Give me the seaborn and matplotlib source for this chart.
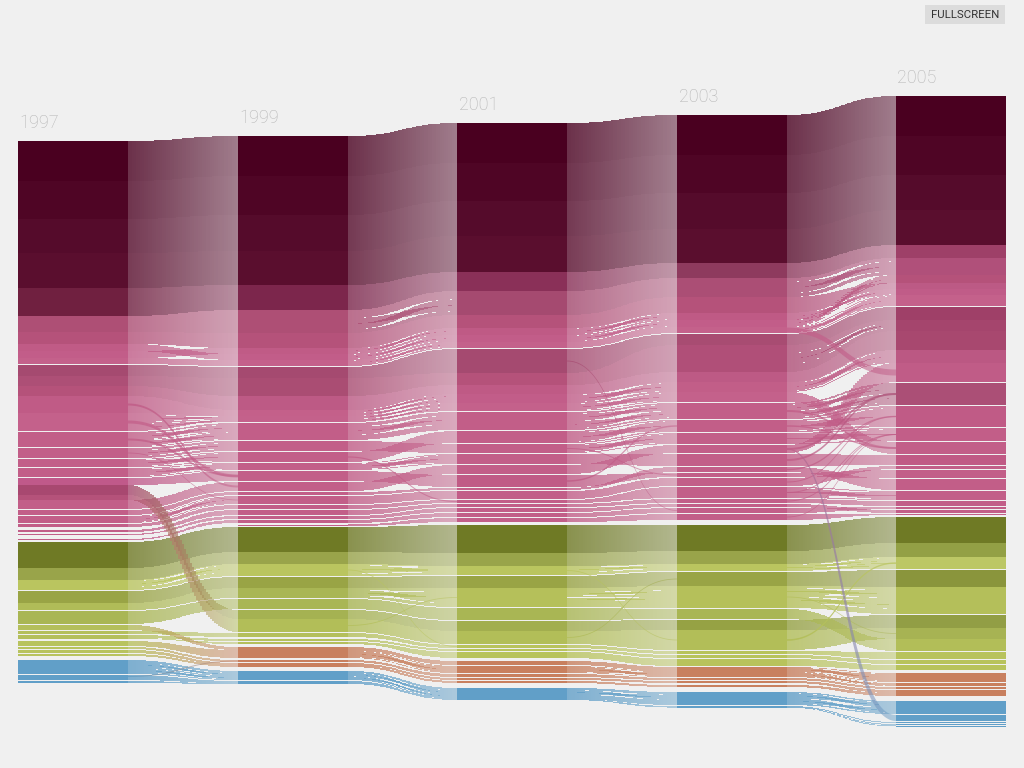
import numpy as np
import matplotlib
matplotlib.use("Agg")
import matplotlib.pyplot as plt
from matplotlib.collections import PolyCollection
from matplotlib.colors import to_rgb
from matplotlib.patches import Rectangle
import seaborn as sns

years = [1997, 1999, 2001, 2003, 2005]
tops = {1997: 141, 1999: 136, 2001: 123, 2003: 115, 2005: 96}

dark_ids = ["d1","d2","d3","d4","d5"]

order_1997 = dark_ids + ["b1","b2","b3","b4","b5","c1","c2","c3","c4","c5",
    "e1","e2","e3","e4","e5","x1","x2","e6","e7","e8","e9","e10","e11","e12",
    "o1","o2","o3","o4","o5","o6","g1","o8","o9","o10","g2","g3","g4","g5","k1","k2","k3","k4"]
heights_1997 = [40,38,34,35,28, 16,12,7,7,6, 11,10,10,17,18, 15,10,8,9,7, 10,5, 9,5,7,3,2,1,1,
    26,12,10,12,7,13, 5,3,3,0.5, 5,2,3,2, 14,3,2,2]
gaps_1997 = [0,0,0,0,0, 0,0,0,0,1, 0,0,0,0,1, 1,1,1,1,0, 0,0, 1,1,1,3,2,4,2,
    0,0,1,0,1,1, 1,1,0,2.5, 1,1,1,4, 1,0,1,0]
colors_1997 = ["#4a0020","#4f0525","#550b2b","#5a0e2e","#702040",
    "#ae4f75","#b5527a","#c05b86","#c25d89","#c4618b",
    "#a54a70","#ad4f76","#b5527a","#c05b86","#c4618b",
    "#c25e88","#c25e88","#c25e88","#c25e88","#c0598a","#a84870","#b5527a",
    "#c25e88","#c25e88","#c25e88","#c25e88","#c25e88","#c25e88","#c25e88",
    "#6f7a25","#99a44a","#bac55f","#99a445","#b0bc58","#a9b654",
    "#b4bf5c","#b4bf5c","#b4bf5c","#b4bf5c","#b8c35f","#b8c35f","#b8c35f","#b8c35f",
    "#619fc8","#619fc8","#619fc8","#619fc8"]

order_1999 = dark_ids + ["b1","b2","b4","b3","b5","c1","c2","c3","c4","c5",
    "e1","e2","e3","e4","e5","e6","e7","e8","e9","e10","e11","e12","e13",
    "o1","o2","o3","o4","o5","o6","x1","x2","o8","o9","o10",
    "g1","g2","g3","g4","g5","k1","k2","k3","k4"]
heights_1999 = [40,39,36,34,25, 23,15,6,6,6, 11,18,14,6,6, 17,10,10,7,10,9,3,8,4,5,3,3,1.5,
    25,12,12,11,10,10, 9,13, 4,2,2, 3,8,2,2,2, 9,2,0.5,0.5]
gaps_1999 = [0,0,0,0,0, 0,0,0,0,1, 0,0,0,0,1, 1,1,1,1,1,1,1,1,1,1,1,1.5,1,
    0,0,1,0,1,1, 0,1, 2,1,3, 0,2,1,0,4, 1,0,0,0]
colors_1999 = ["#4a0020","#4f0525","#550b2b","#5a0e2e","#7c264c",
    "#ae4f75","#b5527a","#c05b86","#c25d89","#c4618b",
    "#a54a70","#aa4d73","#bd5a85","#c4608a","#c4618b",
    "#c25e88","#c25e88","#c25e88","#c25e88","#c25e88","#c25e88","#c25e88","#c25e88",
    "#c25e88","#c25e88","#c25e88","#c25e88","#c25e88",
    "#6f7a25","#99a44a","#bac55f","#99a445","#a9b654","#a9b654","#a5b252","#b2be58",
    "#b4bf5c","#b4bf5c","#b4bf5c",
    "#c8805f","#c8805f","#c8805f","#c8805f","#c8805f","#619fc8","#619fc8","#619fc8","#619fc8"]

order_2001 = dark_ids + ["b1","b2","b4","b3","b5","c1","c2","c3","c4","c5",
    "e1","e3","e2","e4","e6","e5","e7","e8","e9","e10","e11","e12","e13",
    "o1","o2","o3","o4","o5","o6","x1","x2","o8","o9","o10",
    "g1","g2","g3","g4","g5","k1","k2","k3","k4"]
heights_2001 = [40,38,35,36,19, 24,13,7,7,6, 24,12,9,9,8, 18,12,9,10,9,12,2,8,3,3,4,4,4,
    28,13,9,12,19,12, 10,13, 3,2,6, 4,7,3,2,2, 11,0.4,0.3,0.3]
gaps_2001 = [0,0,0,0,0, 0,0,0,0,1, 0,0,0,0,1, 1,1,1,1,1,1,1,1,1,1,1,1,3,
    0,0,1,0,1,1, 0,1, 1,1,3, 1,1,1,1,5, 0,0,0,0]
colors_2001 = ["#4a0020","#4f0525","#550b2b","#5a0e2e","#8a3058",
    "#a54a70","#b5527a","#bf5a85","#c25d89","#c4618b",
    "#a54a70","#b5527a","#bf5a85","#c25d89","#c4618b",
    "#c25e88","#c25e88","#c25e88","#c25e88","#c25e88","#c05b86","#c25e88","#c25e88",
    "#c25e88","#c25e88","#c25e88","#c25e88","#c25e88",
    "#6f7a25","#99a44a","#bac55f","#99a445","#b5c05a","#a9b654","#a2ae4e","#b2be58",
    "#b8c35c","#b8c35c","#b8c35c",
    "#c8805f","#c8805f","#c8805f","#c8805f","#c8805f","#619fc8","#619fc8","#619fc8","#619fc8"]

order_2003 = dark_ids + ["b1","b2","b4","b3","b5","c1","c2","c3","c4","c5",
    "e1","e3","e2","e6","e4","e7","e5","e8","e9","e10","e11","e12","e13",
    "o1","o2","o3","o4","o5","o6","x1","x2","o8","o9","o10",
    "g1","g2","g3","g4","g5","k1","k2","k3","k4"]
heights_2003 = [40,38,36,34,15, 19,16,7,7,6, 11,27,10,10,10, 16,12,11,8,12,5,4,8,11,4,3,5,6,
    26,13,7,14,22,10, 10,20, 3,3,7, 5,5,2,2,2, 13,1,0.3,0.3]
gaps_2003 = [0,0,0,0,0, 0,0,0,0,1, 0,0,0,0,1, 1,1,1,1,1,1,1,1,1,1,1,1,5,
    0,0,1,0,1,1, 0,1, 1,1,1, 0,1,1,2,5, 1,0,0,0]
colors_2003 = ["#4a0020","#4f0525","#550b2b","#5a0e2e","#8e3a5e",
    "#ab4e75","#b5527a","#bf5a85","#c25d89","#c4618b",
    "#a84c72","#b04f78","#bd5a85","#c25e88","#c4618b",
    "#c25e88","#c25e88","#c25e88","#c25e88","#c25e88","#c25e88","#c25e88","#c25e88",
    "#c25e88","#c25e88","#c25e88","#c25e88","#c25e88",
    "#6f7a25","#99a44a","#bac55f","#99a445","#b5c05a","#a9b654","#96a244","#b2be58",
    "#b8c35c","#b8c35c","#b8c35c",
    "#c8805f","#c8805f","#c8805f","#c8805f","#c8805f","#619fc8","#619fc8","#619fc8","#619fc8"]

order_2005 = dark_ids + ["b1","b3","b2","b4","b5","c1","c2","c3","c4","e6",
    "e1","e3","e2","c5","e4","e8","e5","e7","e9","e10","e12","e11","e13",
    "o1","o2","o3","o4","o5","x1","x2","o6","o8","o9","o10",
    "g1","g2","g3","g4","g5","k1","k5","k2","k3","k4"]
heights_2005 = [40,39,35,35,13, 17,8,6,6,11, 13,11,19,13,19, 22,21,13,12,10,3,8,11,9,5,2,3,1,
    26,14,12,17,27,13,11,12, 7,4,5, 9,3,2,3,3, 13,6,1,1,1]
gaps_2005 = [0,0,0,0,0, 0,0,0,0,1, 0,0,0,0,1, 1,1,1,1,1,1,1,1,1,1,1,1,2,
    0,0,1,0,1,0,0,1, 1,1,3, 1,1,1,0,5, 1,1,1,0.5,0]
colors_2005 = ["#4a0020","#4f0525","#550b2b","#5a0e2e","#9e4068",
    "#b0507a","#b5527a","#bc5a85","#c05c88","#c4618b",
    "#9f4068","#a5456d","#a8486f","#bb5883","#c05c87",
    "#ab4f76","#c05b86","#c25e88","#c25e88","#c05a85","#c25e88","#c25e88","#c25e88",
    "#c25e88","#c25e88","#c25e88","#c25e88","#c25e88",
    "#6f7a25","#93a045","#bcc765","#8a953c","#b4bf5a","#929e45","#a7b353","#b2be58",
    "#b8c35c","#b8c35c","#b8c35c",
    "#c8805f","#c8805f","#c8805f","#c8805f","#c8805f","#619fc8","#619fc8","#619fc8","#619fc8","#619fc8"]

orders = dict(zip(years, [order_1997, order_1999, order_2001, order_2003, order_2005]))
heights = dict(zip(years, [heights_1997, heights_1999, heights_2001, heights_2003, heights_2005]))
gaps = dict(zip(years, [gaps_1997, gaps_1999, gaps_2001, gaps_2003, gaps_2005]))
colors = dict(zip(years, [colors_1997, colors_1999, colors_2001, colors_2003, colors_2005]))

weaves = {
 1997: {"c5":[(.1,.2),(.6,.2)], "e1":[(.1,.2),(.55,.2)], "e2":[(.2,.3)], "e3":[(.1,.4)],
        "e4":[(.1,.4)], "e8":[(.1,.4)], "k1":[(.2,.15),(.6,.15)], "o3":[(.1,.3)]},
 1999: {"b1":[(.35,.25)], "b3":[(.1,.35)], "b4":[(.1,.35)], "b5":[(.1,.35)],
        "c4":[(0,.25),(.5,.25)], "c5":[(0,.25),(.5,.25)], "e1":[(.2,.25)], "e4":[(.1,.4)],
        "o3":[(.1,.35)], "o5":[(.2,.3)], "g2":[(.1,.4)], "k1":[(.2,.2),(.6,.15)]},
 2001: {"b3":[(.1,.4)], "b4":[(.1,.4)], "c4":[(.1,.4)], "c5":[(.1,.4)],
        "e1":[(.1,.2),(.5,.2)], "e2":[(.1,.4)], "e3":[(.1,.4)],
        "o3":[(.1,.3)], "o5":[(.2,.1),(.5,.1)], "g2":[(.1,.4)], "k1":[(.2,.2)]},
 2003: {"b1":[(.2,.3)], "b3":[(.1,.4)], "b4":[(.1,.4)], "b5":[(.1,.4)],
        "c2":[(.3,.2)], "c4":[(.1,.4)], "e1":[(.1,.2),(.5,.2)], "e2":[(.1,.4)], "e3":[(.1,.4)],
        "e9":[(.1,.4)], "o3":[(.1,.25),(.5,.25)], "o5":[(.1,.15),(.5,.15)], "g1":[(.1,.4)], "g2":[(.1,.4)],
        "k1":[(.1,.2),(.5,.2)]},
}

threads = {
 1997: [("c5","e5",3,3),("c4","e6",2,2),("e1","e5",2,2),("e2","e8",.8,.8),("k2","g3",1,1)],
 1999: [("e3","e9",1.2,1.2),("o3","o8",.8,.8),("x2","o5",.8,.8)],
 2001: [("c1","e12",.8,.8),("e5","e3",1.5,1.5),("e2","e5",1,1),("o3","x2",.8,.8),("x2","o4",.8,.8)],
 2003: [("b5","e6",5,6),("e1","c5",2,2),("e3","c5",1.5,1.5),("e6","e1",2,2),("e4","e1",2,2),
        ("e7","e3",1.5,1.5),("e8","e3",1,1),("e9","e2",1,1),("e10","e2",1,1),("e13","e2",.8,.8),
        ("x2","o3",1.5,1.5),("x2","o3",1,1),("o5","x2",.8,.8),("e6","k5",1.5,6)],
}

BG = "#f0f0f0"
sns.set_theme(style="white", rc={"figure.facecolor": BG, "axes.facecolor": BG})
plt.rcParams["font.family"] = ["Roboto", "DejaVu Sans"]

fig = plt.figure(figsize=(10.24, 7.68), dpi=100)
ax = fig.add_axes([0, 0, 1, 1])

col_width = 110
def col_left(year):
    return int(18.5 + (year - 1997) / 2 * 219.5)

layout = {}
for yr in years:
    y = tops[yr]
    layout[yr] = {}
    for name, h, g, c in zip(orders[yr], heights[yr], gaps[yr], colors[yr]):
        layout[yr][name] = (y, y + h, np.array(to_rgb(c)))
        y += h + g

_t = np.linspace(0, 1, 400)
_ex = 1.5 * _t * (1 - _t) + _t ** 3
_ey = 3 * _t ** 2 - 2 * _t ** 3
def ease(u):
    return np.interp(u, _ex, _ey)

def slices(x0, x1):
    xs = np.arange(x0, x1, 2)
    return np.append(xs, x1)

def edges(x0, x1, u, s0, s1, t0, t1):
    # Steep stretches of a ribbon read thicker, as a stroked curve does.
    e = ease(u)
    d = (ease(np.minimum(u + .005, 1)) - ease(np.maximum(u - .005, 0))) / .01
    mid = (s0 + s1) / 2 + ((t0 + t1) / 2 - (s0 + s1) / 2) * e
    h = (s1 - s0) + ((t1 - t0) - (s1 - s0)) * e
    slope = np.abs(d * ((t0 + t1) - (s0 + s1)) / 2 / (x1 - x0))
    h = h * (1 + np.maximum(0, slope - .5) ** 2) ** .35
    return mid - h / 2, mid + h / 2

def add_flow(verts, cols, x0, x1, s0, s1, t0, t1, c0, c1):
    xs = slices(x0, x1)
    u = (xs - x0) / (x1 - x0)
    umid = (u[:-1] + u[1:]) / 2
    top, bot = edges(x0, x1, umid, s0, s1, t0, t1)
    top, bot = np.round(top), np.round(bot)
    al = 0.80 - 0.32 * umid
    for i in range(len(umid)):
        if bot[i] <= top[i]:
            continue
        verts.append([(xs[i], top[i]), (xs[i + 1], top[i]), (xs[i + 1], bot[i]), (xs[i], bot[i])])
        c = c0 * (1 - umid[i]) + c1 * umid[i]
        cols.append((c[0], c[1], c[2], al[i]))

def add_thread(verts, cols, x0, x1, s0, s1, t0, t1, c0, c1):
    xs = slices(x0, x1)
    u = (xs - x0) / (x1 - x0)
    umid = (u[:-1] + u[1:]) / 2
    top, bot = edges(x0, x1, u, s0, s1, t0, t1)
    al = 0.80 - 0.32 * umid
    for i in range(len(umid)):
        verts.append([(xs[i], top[i]), (xs[i + 1], top[i + 1]), (xs[i + 1], bot[i + 1]), (xs[i], bot[i])])
        c = c0 * (1 - umid[i]) + c1 * umid[i]
        cols.append((c[0], c[1], c[2], al[i]))

for a, b in zip(years[:-1], years[1:]):
    x0 = col_left(a) + col_width
    x1 = col_left(b)
    verts, cols = [], []
    shared = [n for n in orders[a] if n in layout[b]]
    shared.sort(key=lambda n: abs(layout[b][n][0] - layout[a][n][0]))
    for name in shared:
        s0, s1, c0 = layout[a][name]
        t0, t1, c1 = layout[b][name]
        strands = []
        p = 0.0
        for st, w in weaves[a].get(name, []):
            if st > p:
                strands.append((p, st, p, st))
            strands.append((st, st + w, st + w, st + 2 * w))
            strands.append((st + w, st + 2 * w, st, st + w))
            p = st + 2 * w
        if p < 1:
            strands.append((p, 1, p, 1))
        for f0, f1, g0, g1 in strands:
            add_flow(verts, cols, x0, x1,
                     s0 + (s1 - s0) * f0, s0 + (s1 - s0) * f1,
                     t0 + (t1 - t0) * g0, t0 + (t1 - t0) * g1, c0, c1)
    ax.add_collection(PolyCollection(verts, facecolors=cols, edgecolors="none", antialiased=False))
    verts, cols = [], []
    for src, tgt, h0, h1 in threads[a]:
        s0, s1, c0 = layout[a][src]
        t0, t1, c1 = layout[b][tgt]
        sm, tm = (s0 + s1) / 2, (t0 + t1) / 2
        add_thread(verts, cols, x0, x1, sm - h0 / 2, sm + h0 / 2, tm - h1 / 2, tm + h1 / 2, c0, c1)
    ax.add_collection(PolyCollection(verts, facecolors=cols, edgecolors="none", antialiased=True))

for yr in years:
    for name in orders[yr]:
        t, bt, c = layout[yr][name]
        sns.barplot(x=[col_left(yr) + col_width / 2], y=[bt - t], bottom=t, native_scale=True,
                    width=col_width, color=tuple(c), saturation=1, errorbar=None, linewidth=0,
                    ax=ax, legend=False)
    ax.text(col_left(yr) + 1.5, tops[yr] - 13, str(yr), color="#b4b4b4", fontsize=13,
            fontweight="light", ha="left", va="baseline")

ax.add_patch(Rectangle((925, 5), 80, 19, facecolor="#dcdcdc", edgecolor="none"))
ax.text(965, 15, "FULLSCREEN", color="#333333", fontsize=8.2, ha="center", va="center")

ax.set_xlim(0, 1024)
ax.set_ylim(768, 0)
ax.set_axis_off()
fig.savefig("out.png", dpi=100, facecolor=BG)
